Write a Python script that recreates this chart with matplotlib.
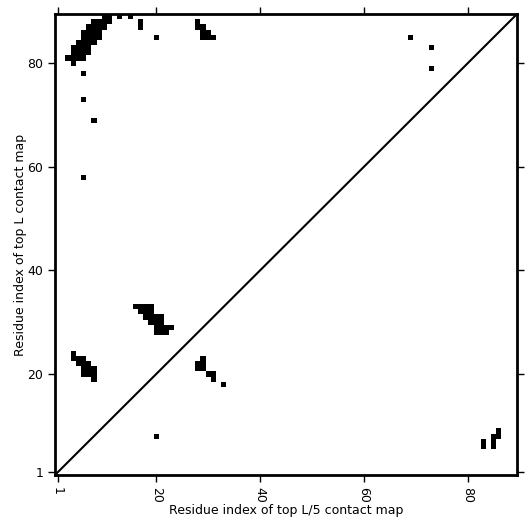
import numpy as np
import matplotlib
matplotlib.use("Agg")
import matplotlib.pyplot as plt

n_res = 89

# contacts above the diagonal: (x residue, y residue)
upper_x = [10, 11, 13, 15,
           8, 9, 10, 11, 17,
           7, 8, 9, 10, 17, 28, 29,
           6, 7, 8, 9, 29, 30,
           6, 7, 8, 9, 20, 29, 30, 31, 69,
           5, 6, 7, 8,
           4, 5, 6, 7, 73,
           4, 5, 6, 7,
           3, 4, 5, 6,
           4, 73, 6, 6, 8, 6,
           28,
           16, 17, 18, 19, 17, 18, 19, 18, 19, 20, 21, 19, 20, 21,
           20, 21, 22, 23, 20, 21, 22,
           4, 4, 5, 6, 5, 6, 7, 6, 7, 8, 6, 7, 8, 8]
upper_y = [89, 89, 89, 89,
           88, 88, 88, 88, 88,
           87, 87, 87, 87, 87, 87, 87,
           86, 86, 86, 86, 86, 86,
           85, 85, 85, 85, 85, 85, 85, 85, 85,
           84, 84, 84, 84,
           83, 83, 83, 83, 83,
           82, 82, 82, 82,
           81, 81, 81, 81,
           80, 79, 78, 73, 69, 58,
           88,
           33, 33, 33, 33, 32, 32, 32, 31, 31, 31, 31, 30, 30, 30,
           29, 29, 29, 29, 28, 28, 28,
           24, 23, 23, 23, 22, 22, 22, 21, 21, 21, 20, 20, 20, 19]

# contacts below the diagonal
lower_x = [29, 28, 29, 28, 29, 30, 31, 31, 33, 20, 83, 83, 85, 85, 85, 86, 86]
lower_y = [23, 22, 22, 21, 21, 20, 20, 19, 18, 8, 7, 6, 8, 7, 6, 9, 8]

cmap_mat = np.zeros((n_res, n_res))
for xi, yi in zip(upper_x + lower_x, upper_y + lower_y):
    cmap_mat[yi - 1, xi - 1] = 1

plt.rcParams['font.size'] = 9

fig = plt.figure(figsize=(5.31, 5.31), dpi=100)
ax = fig.add_axes([0.1036, 0.1055, 0.87, 0.868])
ax.imshow(cmap_mat, cmap='Greys', origin='lower', interpolation='nearest',
          extent=(0.5, n_res + 0.5, 0.5, n_res + 0.5), aspect='auto')
ax.plot([0.5, n_res + 0.5], [0.5, n_res + 0.5], color='black', linewidth=1.5)
ax.set_xlim(0.5, n_res + 0.5)
ax.set_ylim(0.5, n_res + 0.5)

ticks = [1, 20, 40, 60, 80]
ax.set_xticks(ticks)
ax.set_yticks(ticks)
ax.set_xticklabels([str(t) for t in ticks], rotation=-90)
ax.tick_params(direction='out', top=True, right=True, length=5, width=1,
               labelsize=9)
for s in ax.spines.values():
    s.set_linewidth(2)

ax.set_xlabel("Residue index of top L/5 contact map", labelpad=1)
ax.set_ylabel("Residue index of top L contact map", labelpad=0.5)

fig.savefig("out.png", dpi=100)
